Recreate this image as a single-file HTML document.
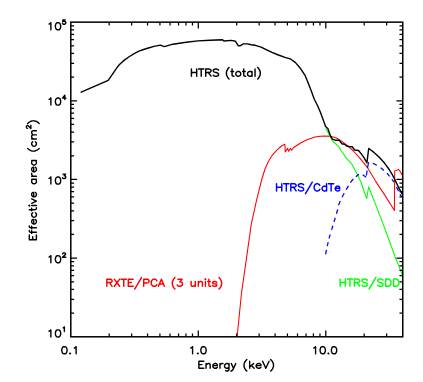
<!DOCTYPE html>
<html><head><meta charset="utf-8"><title>Effective area</title><style>
html,body{margin:0;padding:0;background:#fff;}
svg{display:block;}
</style></head><body>
<svg width="423" height="382" viewBox="0 0 423 382">
<rect width="423" height="382" fill="#fff"/>
<polyline points="237.1,336.8 241.5,293.2 247.3,252.4 251.2,224.7 256.4,200.9 261.6,180.0 265.0,169.0 268.5,161.3 272.1,155.4 276.8,150.1 281.5,146.0 284.9,144.2 285.3,151.9 287.5,148.3 288.6,151.3 290.4,148.3 291.6,150.3 293.4,147.7 300.5,143.0 307.6,139.5 315.0,137.1 320.0,136.3 325.0,136.0 330.7,136.3 336.4,138.0 342.0,141.4 347.7,145.9 353.4,151.0 359.0,157.2 364.7,164.2 367.6,167.8 375.5,181.1 384.0,193.9 394.4,210.5 394.7,170.8 396.5,170.4 398.3,169.4 400.0,171.2 402.6,175.8" fill="none" stroke="#ff0000" stroke-width="1.05" stroke-linejoin="round" stroke-linecap="butt" />
<polyline points="325.6,128.3 328.0,132.5 330.7,137.5 332.4,140.9 336.4,144.5 339.2,147.1 340.9,150.5 343.7,153.9 346.0,157.9 349.4,161.3 352.2,164.7 353.9,168.0 357.1,174.0 361.5,183.5 364.9,194.0 366.8,198.5 368.6,186.8 371.4,194.0 375.4,203.9 384.8,228.5 395.2,257.0 402.7,275.6" fill="none" stroke="#00ff00" stroke-width="1.05" stroke-linejoin="round" stroke-linecap="butt" />
<polyline points="325.6,254.3 326.5,249.9" fill="none" stroke="#0000ff" stroke-width="1.25" stroke-linejoin="round" stroke-linecap="butt" /><polyline points="327.2,246.1 328.2,242.2" fill="none" stroke="#0000ff" stroke-width="1.25" stroke-linejoin="round" stroke-linecap="butt" /><polyline points="329.0,238.4 330.2,234.5" fill="none" stroke="#0000ff" stroke-width="1.25" stroke-linejoin="round" stroke-linecap="butt" /><polyline points="331.6,229.9 332.9,225.7" fill="none" stroke="#0000ff" stroke-width="1.25" stroke-linejoin="round" stroke-linecap="butt" /><polyline points="334.0,221.9 335.3,217.7" fill="none" stroke="#0000ff" stroke-width="1.25" stroke-linejoin="round" stroke-linecap="butt" /><polyline points="336.4,213.7 337.7,209.5" fill="none" stroke="#0000ff" stroke-width="1.25" stroke-linejoin="round" stroke-linecap="butt" /><polyline points="338.5,205.3 340.3,201.0" fill="none" stroke="#0000ff" stroke-width="1.25" stroke-linejoin="round" stroke-linecap="butt" /><polyline points="342.0,197.2 344.2,193.2" fill="none" stroke="#0000ff" stroke-width="1.25" stroke-linejoin="round" stroke-linecap="butt" /><polyline points="346.1,189.7 348.5,185.8" fill="none" stroke="#0000ff" stroke-width="1.25" stroke-linejoin="round" stroke-linecap="butt" /><polyline points="350.4,182.7 353.3,178.8" fill="none" stroke="#0000ff" stroke-width="1.25" stroke-linejoin="round" stroke-linecap="butt" /><polyline points="355.9,176.8 357.5,175.3 359.0,174.4" fill="none" stroke="#0000ff" stroke-width="1.25" stroke-linejoin="round" stroke-linecap="butt" /><polyline points="362.7,174.8 366.2,177.2" fill="none" stroke="#0000ff" stroke-width="1.25" stroke-linejoin="round" stroke-linecap="butt" /><polyline points="366.4,175.5 367.1,170.5" fill="none" stroke="#0000ff" stroke-width="1.25" stroke-linejoin="round" stroke-linecap="butt" /><polyline points="367.5,168.0 368.6,162.2" fill="none" stroke="#0000ff" stroke-width="1.25" stroke-linejoin="round" stroke-linecap="butt" /><polyline points="372.8,163.2 376.7,165.1" fill="none" stroke="#0000ff" stroke-width="1.25" stroke-linejoin="round" stroke-linecap="butt" /><polyline points="380.7,167.8 384.0,170.5" fill="none" stroke="#0000ff" stroke-width="1.25" stroke-linejoin="round" stroke-linecap="butt" /><polyline points="387.0,173.2 389.7,176.4" fill="none" stroke="#0000ff" stroke-width="1.25" stroke-linejoin="round" stroke-linecap="butt" /><polyline points="391.9,179.3 394.0,182.1" fill="none" stroke="#0000ff" stroke-width="1.25" stroke-linejoin="round" stroke-linecap="butt" /><polyline points="396.4,187.0 398.6,191.1" fill="none" stroke="#0000ff" stroke-width="1.25" stroke-linejoin="round" stroke-linecap="butt" /><polyline points="400.0,194.1 401.9,197.2" fill="none" stroke="#0000ff" stroke-width="1.25" stroke-linejoin="round" stroke-linecap="butt" />
<polyline points="80.6,92.3 108.2,80.4 118.2,65.9 120.0,64.0 124.7,59.9 129.5,56.5 134.2,53.6 138.9,51.2 143.6,49.5 148.4,48.0 154.0,46.4 160.3,45.1 164.4,46.6 172.9,44.2 186.2,42.3 198.0,40.9 210.0,40.3 222.5,39.7 223.9,41.0 231.3,40.4 235.5,41.3 238.4,45.9 240.0,45.8 243.3,43.9 247.6,43.9 251.1,44.8 255.4,45.3 261.1,47.2 266.7,49.9 272.0,52.4 278.4,55.0 285.0,57.3 290.2,58.8 295.5,62.6 300.7,68.8 304.9,75.1 308.0,82.5 311.2,90.8 314.3,99.2 317.5,105.5 320.6,112.8 323.7,121.2 325.6,126.5 327.8,128.6 330.7,136.4 332.4,139.2 335.8,140.3 339.2,140.3 342.0,143.7 344.3,144.3 346.6,146.0 349.4,146.6 352.2,146.8 354.7,150.0 358.5,150.5 361.3,153.9 364.2,157.9 366.9,162.8 368.7,148.5 373.4,151.9 379.0,157.0 384.7,163.3 389.2,169.5 392.6,175.2 395.5,180.9 398.9,188.2 402.3,194.2" fill="none" stroke="#000" stroke-width="1.4" stroke-linejoin="round" stroke-linecap="butt" />
<rect x="70.80" y="22.15" width="331.95" height="314.65" fill="none" stroke="#000" stroke-width="1.5"/>
<path d="M109.18,336.80L109.18,333.50 M109.18,22.15L109.18,25.45 M131.63,336.80L131.63,333.50 M131.63,22.15L131.63,25.45 M147.56,336.80L147.56,333.50 M147.56,22.15L147.56,25.45 M159.92,336.80L159.92,333.50 M159.92,22.15L159.92,25.45 M170.01,336.80L170.01,333.50 M170.01,22.15L170.01,25.45 M178.55,336.80L178.55,333.50 M178.55,22.15L178.55,25.45 M185.94,336.80L185.94,333.50 M185.94,22.15L185.94,25.45 M192.47,336.80L192.47,333.50 M192.47,22.15L192.47,25.45 M198.30,336.80L198.30,330.50 M198.30,22.15L198.30,28.45 M236.68,336.80L236.68,333.50 M236.68,22.15L236.68,25.45 M259.13,336.80L259.13,333.50 M259.13,22.15L259.13,25.45 M275.06,336.80L275.06,333.50 M275.06,22.15L275.06,25.45 M287.42,336.80L287.42,333.50 M287.42,22.15L287.42,25.45 M297.51,336.80L297.51,333.50 M297.51,22.15L297.51,25.45 M306.05,336.80L306.05,333.50 M306.05,22.15L306.05,25.45 M313.44,336.80L313.44,333.50 M313.44,22.15L313.44,25.45 M319.97,336.80L319.97,333.50 M319.97,22.15L319.97,25.45 M325.80,336.80L325.80,330.50 M325.80,22.15L325.80,28.45 M364.18,336.80L364.18,333.50 M364.18,22.15L364.18,25.45 M386.63,336.80L386.63,333.50 M386.63,22.15L386.63,25.45 M70.80,313.12L74.10,313.12 M402.75,313.12L399.45,313.12 M70.80,299.27L74.10,299.27 M402.75,299.27L399.45,299.27 M70.80,289.44L74.10,289.44 M402.75,289.44L399.45,289.44 M70.80,281.82L74.10,281.82 M402.75,281.82L399.45,281.82 M70.80,275.59L74.10,275.59 M402.75,275.59L399.45,275.59 M70.80,270.32L74.10,270.32 M402.75,270.32L399.45,270.32 M70.80,265.76L74.10,265.76 M402.75,265.76L399.45,265.76 M70.80,261.74L74.10,261.74 M402.75,261.74L399.45,261.74 M70.80,258.14L77.10,258.14 M402.75,258.14L396.45,258.14 M70.80,234.46L74.10,234.46 M402.75,234.46L399.45,234.46 M70.80,220.61L74.10,220.61 M402.75,220.61L399.45,220.61 M70.80,210.78L74.10,210.78 M402.75,210.78L399.45,210.78 M70.80,203.15L74.10,203.15 M402.75,203.15L399.45,203.15 M70.80,196.93L74.10,196.93 M402.75,196.93L399.45,196.93 M70.80,191.66L74.10,191.66 M402.75,191.66L399.45,191.66 M70.80,187.10L74.10,187.10 M402.75,187.10L399.45,187.10 M70.80,183.07L74.10,183.07 M402.75,183.07L399.45,183.07 M70.80,179.47L77.10,179.47 M402.75,179.47L396.45,179.47 M70.80,155.80L74.10,155.80 M402.75,155.80L399.45,155.80 M70.80,141.94L74.10,141.94 M402.75,141.94L399.45,141.94 M70.80,132.12L74.10,132.12 M402.75,132.12L399.45,132.12 M70.80,124.49L74.10,124.49 M402.75,124.49L399.45,124.49 M70.80,118.26L74.10,118.26 M402.75,118.26L399.45,118.26 M70.80,113.00L74.10,113.00 M402.75,113.00L399.45,113.00 M70.80,108.44L74.10,108.44 M402.75,108.44L399.45,108.44 M70.80,104.41L74.10,104.41 M402.75,104.41L399.45,104.41 M70.80,100.81L77.10,100.81 M402.75,100.81L396.45,100.81 M70.80,77.13L74.10,77.13 M402.75,77.13L399.45,77.13 M70.80,63.28L74.10,63.28 M402.75,63.28L399.45,63.28 M70.80,53.45L74.10,53.45 M402.75,53.45L399.45,53.45 M70.80,45.83L74.10,45.83 M402.75,45.83L399.45,45.83 M70.80,39.60L74.10,39.60 M402.75,39.60L399.45,39.60 M70.80,34.33L74.10,34.33 M402.75,34.33L399.45,34.33 M70.80,29.77L74.10,29.77 M402.75,29.77L399.45,29.77 M70.80,25.75L74.10,25.75 M402.75,25.75L399.45,25.75" stroke="#000" stroke-width="1.25" fill="none"/>
<path d="M57.61,22.69L56.53,23.03L55.78,24.05L55.40,25.65L55.40,26.84L55.78,28.45L56.48,29.42L57.61,29.80L58.46,29.80L59.54,29.47L60.29,28.45L60.67,26.84L60.67,25.65L60.29,24.05L59.59,23.07L58.46,22.69ZM50.88,22.69L49.71,23.75L49.00,24.05L49.71,23.75L50.83,22.73L50.88,22.78L50.88,29.80ZM62.96,19.84L62.73,21.73L62.96,21.52L63.64,21.31L64.39,21.31L65.06,21.52L65.56,22.00L65.76,22.55L65.76,23.02L65.53,23.62L65.01,24.07L64.39,24.25L63.64,24.25L62.96,24.04L62.70,23.81L62.50,23.41L62.70,23.81L62.96,24.04L63.64,24.25L64.39,24.25L65.01,24.07L65.53,23.62L65.76,23.02L65.76,22.55L65.53,21.94L65.06,21.52L64.39,21.31L63.64,21.31L63.02,21.50L62.76,21.71L62.73,21.68L62.94,19.98L62.99,19.84L65.30,19.84Z" fill="none" stroke="#000" stroke-width="1.4" stroke-linejoin="round" stroke-linecap="round"/>
<path d="M57.61,97.99L56.53,98.33L55.78,99.35L55.40,100.95L55.40,102.14L55.78,103.75L56.48,104.72L57.61,105.10L58.46,105.10L59.54,104.77L60.29,103.75L60.67,102.14L60.67,100.95L60.29,99.35L59.59,98.37L58.46,97.99ZM50.88,97.99L49.71,99.05L49.00,99.35L49.71,99.05L50.83,98.03L50.88,98.08L50.88,105.10ZM64.83,95.14L62.50,98.08L64.80,98.08L64.83,99.55L64.83,98.11L66.00,98.08L64.83,98.06Z" fill="none" stroke="#000" stroke-width="1.4" stroke-linejoin="round" stroke-linecap="round"/>
<path d="M57.61,176.99L56.53,177.33L55.78,178.35L55.40,179.95L55.40,181.14L55.78,182.75L56.48,183.72L57.61,184.10L58.46,184.10L59.54,183.77L60.29,182.75L60.67,181.14L60.67,179.95L60.29,178.35L59.59,177.37L58.46,176.99ZM50.88,176.99L49.71,178.05L49.00,178.35L49.71,178.05L50.83,177.03L50.88,177.08L50.88,184.10ZM62.96,174.14L65.50,174.17L64.13,175.82L64.86,175.82L65.27,176.01L65.53,176.24L65.76,176.85L65.76,177.32L65.56,177.87L65.01,178.37L64.39,178.55L63.64,178.55L62.96,178.34L62.70,178.11L62.50,177.71L62.70,178.11L62.96,178.34L63.64,178.55L64.39,178.55L65.01,178.37L65.53,177.92L65.76,177.32L65.76,176.85L65.53,176.24L65.27,176.01L64.86,175.82L64.16,175.80L65.53,174.14Z" fill="none" stroke="#000" stroke-width="1.4" stroke-linejoin="round" stroke-linecap="round"/>
<path d="M57.61,255.69L56.53,256.03L55.78,257.05L55.40,258.65L55.40,259.84L55.78,261.45L56.48,262.42L57.61,262.80L58.46,262.80L59.54,262.47L60.29,261.45L60.67,259.84L60.67,258.65L60.29,257.05L59.59,256.07L58.46,255.69ZM50.88,255.69L49.71,256.75L49.00,257.05L49.71,256.75L50.83,255.73L50.88,255.78L50.88,262.80ZM63.66,252.84L63.20,253.05L62.96,253.26L62.73,253.68L62.73,253.89L62.73,253.68L62.96,253.26L63.20,253.05L63.66,252.84L64.63,252.84L65.04,253.03L65.30,253.26L65.53,253.68L65.53,254.13L65.33,254.50L64.86,255.13L62.50,257.25L65.76,257.25L62.53,257.23L64.86,255.13L65.33,254.50L65.53,254.13L65.53,253.68L65.30,253.26L65.04,253.03L64.63,252.84Z" fill="none" stroke="#000" stroke-width="1.4" stroke-linejoin="round" stroke-linecap="round"/>
<path d="M57.61,329.89L56.53,330.23L55.78,331.25L55.40,332.85L55.40,334.04L55.78,335.65L56.48,336.62L57.61,337.00L58.46,337.00L59.54,336.67L60.29,335.65L60.67,334.04L60.67,332.85L60.29,331.25L59.59,330.27L58.46,329.89ZM50.88,329.89L49.71,330.95L49.00,331.25L49.71,330.95L50.83,329.93L50.88,329.98L50.88,337.00ZM64.36,327.04L63.64,327.70L63.20,327.88L63.64,327.70L64.34,327.07L64.36,327.10L64.36,331.45Z" fill="none" stroke="#000" stroke-width="1.4" stroke-linejoin="round" stroke-linecap="round"/>
<path d="M70.08,353.13L69.70,353.47L70.08,353.80L70.46,353.47ZM76.10,346.69L74.93,347.75L74.22,348.05L74.93,347.75L76.06,346.73L76.10,346.78L76.10,353.80ZM64.01,346.69L62.93,347.03L62.18,348.05L61.80,349.65L61.80,350.84L62.18,352.45L62.88,353.42L64.01,353.80L64.86,353.80L65.94,353.47L66.69,352.45L67.07,350.84L67.07,349.65L66.69,348.05L65.99,347.07L64.86,346.69Z" fill="none" stroke="#000" stroke-width="1.4" stroke-linejoin="round" stroke-linecap="round"/>
<path d="M197.85,353.13L197.48,353.47L197.85,353.80L198.23,353.47ZM203.07,346.69L201.99,347.03L201.24,348.05L200.86,349.65L200.86,350.84L201.24,352.45L201.94,353.42L203.07,353.80L203.92,353.80L205.00,353.47L205.76,352.45L206.13,350.84L206.13,349.65L205.76,348.05L205.05,347.07L203.92,346.69ZM192.58,346.69L191.41,347.75L190.70,348.05L191.41,347.75L192.53,346.73L192.58,346.78L192.58,353.80Z" fill="none" stroke="#000" stroke-width="1.4" stroke-linejoin="round" stroke-linecap="round"/>
<path d="M328.38,353.13L328.00,353.47L328.38,353.80L328.76,353.47ZM333.60,346.69L332.52,347.03L331.77,348.05L331.39,349.65L331.39,350.84L331.77,352.45L332.47,353.42L333.60,353.80L334.45,353.80L335.53,353.47L336.28,352.45L336.66,350.84L336.66,349.65L336.28,348.05L335.58,347.07L334.45,346.69ZM322.31,346.69L321.23,347.03L320.48,348.05L320.10,349.65L320.10,350.84L320.48,352.45L321.18,353.42L322.31,353.80L323.16,353.80L324.24,353.47L324.99,352.45L325.37,350.84L325.37,349.65L324.99,348.05L324.29,347.07L323.16,346.69ZM315.58,346.69L314.41,347.75L313.70,348.05L314.41,347.75L315.53,346.73L315.58,346.78L315.58,353.80Z" fill="none" stroke="#000" stroke-width="1.4" stroke-linejoin="round" stroke-linecap="round"/>
<path d="M235.79,363.56L233.53,368.26L231.27,363.56L233.53,368.35L232.82,369.84L231.98,370.73L231.32,371.07L230.89,371.07L231.32,371.07L231.98,370.73L232.82,369.84L233.53,368.35ZM229.01,363.56L228.96,364.54L228.21,363.86L227.55,363.56L226.38,363.56L225.62,363.90L224.82,364.66L224.50,365.55L224.50,366.31L224.87,367.29L225.62,367.97L226.38,368.30L227.55,368.30L228.21,368.01L228.96,367.33L229.01,367.37L229.01,369.14L228.64,370.28L228.21,370.73L227.55,371.07L226.38,371.07L225.62,370.68L226.38,371.07L227.55,371.07L228.21,370.73L228.68,370.18L229.01,369.14ZM222.99,363.56L221.86,363.56L221.11,363.90L220.35,364.58L220.03,365.43L219.98,363.56L219.98,368.30L219.98,365.55L220.35,364.58L221.11,363.90L221.86,363.56ZM214.71,363.56L213.96,363.90L213.20,364.58L212.83,365.55L212.83,366.31L213.20,367.29L213.96,367.97L214.71,368.30L215.89,368.30L216.54,368.01L217.34,367.29L216.54,368.01L215.89,368.30L214.71,368.30L213.96,367.97L213.20,367.29L212.83,366.31L212.87,365.59L217.34,365.59L217.34,364.92L216.97,364.24L216.54,363.86L215.89,363.56ZM206.05,363.56L206.05,368.30L206.05,364.92L207.18,363.90L207.93,363.56L209.11,363.56L209.77,363.86L210.19,364.87L210.19,368.30L210.19,364.87L209.82,363.90L209.11,363.56L207.93,363.56L207.18,363.90L206.10,364.87ZM198.90,361.19L198.90,368.30L203.79,368.30L198.90,368.26L198.90,364.62L201.91,364.58L198.90,364.54L198.90,361.23L203.79,361.19Z" fill="none" stroke="#000" stroke-width="1.4" stroke-linejoin="round" stroke-linecap="round"/>
<path d="M258.14,363.56L257.34,363.90L256.53,364.58L256.12,365.55L256.12,366.31L256.53,367.29L257.34,367.97L258.14,368.30L259.41,368.30L260.11,368.01L260.97,367.29L260.11,368.01L259.41,368.30L258.14,368.30L257.34,367.97L256.53,367.29L256.12,366.31L256.17,365.59L260.97,365.59L260.97,364.92L260.57,364.24L260.11,363.86L259.41,363.56ZM269.05,361.19L265.82,368.26L262.59,361.19L265.82,368.30ZM249.66,361.19L249.66,368.30L249.66,366.95L251.27,365.59L254.10,368.30L251.27,365.59L253.70,363.56L249.71,366.91L249.66,366.87ZM270.67,359.55L271.53,360.42L272.24,361.44L273.10,362.88L273.50,364.49L273.50,366.02L273.10,367.67L272.34,369.05L271.53,370.23L270.67,371.07L271.53,370.23L272.34,369.05L273.10,367.67L273.50,366.02L273.50,364.49L273.10,362.88L272.24,361.44L271.53,360.42ZM246.83,359.55L245.97,360.42L245.26,361.44L244.40,362.88L244.00,364.49L244.00,366.02L244.40,367.67L245.16,369.05L245.97,370.23L246.83,371.07L245.97,370.23L245.16,369.05L244.40,367.67L244.00,366.02L244.00,364.49L244.40,362.88L245.26,361.44L245.97,360.42Z" fill="none" stroke="#000" stroke-width="1.4" stroke-linejoin="round" stroke-linecap="round"/>
<path d="M31.66,195.01L32.00,195.76L32.68,196.51L33.65,196.89L34.41,196.89L35.39,196.51L36.07,195.76L36.40,195.01L36.40,193.83L36.11,193.17L35.39,192.37L36.11,193.17L36.40,193.83L36.40,195.01L36.07,195.76L35.39,196.51L34.41,196.89L33.69,196.84L33.69,192.37L33.02,192.37L32.34,192.75L31.96,193.17L31.66,193.83ZM31.66,198.77L36.36,201.03L31.66,203.29L36.40,201.03ZM31.66,205.55L36.40,205.55ZM31.66,215.33L31.66,214.16L31.96,213.50L32.68,212.70L31.96,213.50L31.66,214.16L31.66,215.33L32.00,216.09L32.68,216.84L33.65,217.22L34.41,217.22L35.39,216.84L36.07,216.09L36.40,215.33L36.40,214.16L36.11,213.50L35.39,212.70L36.11,213.50L36.40,214.16L36.40,215.33L36.07,216.09L35.39,216.84L34.41,217.22L33.65,217.22L32.68,216.84L32.00,216.09ZM31.66,222.11L32.00,222.86L32.68,223.61L33.65,223.99L34.41,223.99L35.39,223.61L36.07,222.86L36.40,222.11L36.40,220.93L36.11,220.27L35.39,219.47L36.11,220.27L36.40,220.93L36.40,222.11L36.07,222.86L35.39,223.61L34.41,223.99L33.69,223.94L33.69,219.47L33.02,219.47L32.34,219.85L31.96,220.27L31.66,220.93ZM29.29,209.69L31.62,209.69L31.66,210.82L31.70,209.69L35.09,209.69L36.07,209.31L36.40,208.56L36.40,207.81L36.40,208.56L36.11,209.22L35.98,209.36L35.09,209.69L31.70,209.69L31.66,208.18L31.62,209.69ZM29.29,225.87L29.29,226.63L29.63,227.38L30.60,227.76L31.66,227.80L31.66,228.88L31.70,227.76L36.40,227.76L31.70,227.76L31.66,226.25L31.66,227.71L30.60,227.76L29.71,227.43L29.59,227.28L29.29,226.63ZM29.29,230.39L29.29,231.14L29.63,231.90L30.60,232.27L31.66,232.32L31.66,233.40L31.70,232.27L36.40,232.27L31.70,232.27L31.66,230.77L31.66,232.22L30.60,232.27L29.71,231.94L29.59,231.80L29.29,231.14ZM29.29,239.80L36.40,239.80L36.40,234.91L36.36,239.80L32.72,239.80L32.68,236.79L32.64,239.80L29.33,239.80L29.29,234.91ZM28.88,205.55L29.29,205.92L29.63,205.55L29.29,205.17Z" fill="none" stroke="#000" stroke-width="1.4" stroke-linejoin="round" stroke-linecap="round"/>
<path d="M32.00,163.85L32.68,164.60L33.65,164.98L34.41,164.98L35.39,164.60L36.07,163.85L36.40,163.10L36.40,161.92L36.11,161.26L35.43,160.51L36.40,160.46L31.66,160.46L32.64,160.51L31.96,161.26L31.66,161.92L31.66,163.10ZM31.66,169.87L32.00,170.63L32.68,171.38L33.65,171.76L34.41,171.76L35.39,171.38L36.07,170.63L36.40,169.87L36.40,168.70L36.11,168.04L35.39,167.24L36.11,168.04L36.40,168.70L36.40,169.87L36.07,170.63L35.39,171.38L34.41,171.76L33.69,171.71L33.69,167.24L33.02,167.24L32.34,167.61L31.96,168.04L31.66,168.70ZM31.66,173.26L31.66,174.39L32.00,175.14L32.68,175.90L33.53,176.22L31.66,176.27L36.40,176.27L33.65,176.27L32.68,175.90L32.00,175.14L31.66,174.39ZM32.00,182.67L32.68,183.42L33.65,183.80L34.41,183.80L35.39,183.42L36.07,182.67L36.40,181.92L36.40,180.74L36.11,180.08L35.43,179.33L36.40,179.28L31.66,179.28L32.64,179.33L31.96,180.08L31.66,180.74L31.66,181.92Z" fill="none" stroke="#000" stroke-width="1.4" stroke-linejoin="round" stroke-linecap="round"/>
<path d="M31.66,139.06L36.40,139.06L33.02,139.06L32.00,137.93L31.66,137.17L31.66,136.00L31.96,135.34L32.97,134.91L36.40,134.91L33.02,134.91L32.00,133.79L31.66,133.03L31.66,131.86L31.96,131.20L32.97,130.77L36.40,130.77L32.97,130.77L31.96,131.20L31.66,131.86L31.66,133.03L32.00,133.79L32.97,134.91L31.96,135.34L31.66,136.00L31.66,137.17L32.00,137.93L32.97,139.01ZM31.66,144.32L31.66,143.15L31.96,142.49L32.68,141.69L31.96,142.49L31.66,143.15L31.66,144.32L32.00,145.08L32.68,145.83L33.65,146.21L34.41,146.21L35.39,145.83L36.07,145.08L36.40,144.32L36.40,143.15L36.11,142.49L35.39,141.69L36.11,142.49L36.40,143.15L36.40,144.32L36.07,145.08L35.39,145.83L34.41,146.21L33.65,146.21L32.68,145.83L32.00,145.08ZM27.65,148.47L28.52,149.27L29.54,149.92L30.98,150.72L32.59,151.10L34.12,151.10L35.77,150.72L37.15,150.02L38.33,149.27L39.17,148.47L38.33,149.27L37.15,150.02L35.77,150.72L34.12,151.10L32.59,151.10L30.98,150.72L29.54,149.92L28.52,149.27ZM26.44,127.40L26.65,127.87L26.86,128.10L27.28,128.34L27.49,128.34L27.28,128.34L26.86,128.10L26.65,127.87L26.44,127.40L26.44,126.44L26.63,126.03L26.86,125.77L27.28,125.53L27.73,125.53L28.10,125.74L28.73,126.21L30.85,128.57L30.85,125.30L30.83,128.54L28.73,126.21L28.10,125.74L27.73,125.53L27.28,125.53L26.86,125.77L26.63,126.03L26.44,126.44ZM27.65,123.47L28.52,122.67L29.54,122.01L30.98,121.21L32.59,120.84L34.12,120.84L35.77,121.21L37.15,121.92L38.33,122.67L39.17,123.47L38.33,122.67L37.15,121.92L35.77,121.21L34.12,120.84L32.59,120.84L30.98,121.21L29.54,122.01L28.52,122.67Z" fill="none" stroke="#000" stroke-width="1.4" stroke-linejoin="round" stroke-linecap="round"/>
<path d="M215.09,69.09L216.69,69.09L217.77,69.43L218.53,70.11L217.77,69.43L216.69,69.09L215.09,69.09L214.01,69.43L213.26,70.11L213.26,70.83L213.59,71.42L214.01,71.80L214.86,72.18L217.07,72.82L217.73,73.11L218.15,73.49L218.53,74.17L218.53,75.19L217.77,75.87L216.69,76.20L215.09,76.20L214.01,75.87L213.26,75.19L214.01,75.87L215.09,76.20L216.69,76.20L217.77,75.87L218.53,75.19L218.53,74.17L218.15,73.49L217.73,73.11L217.07,72.82L214.86,72.18L214.01,71.80L213.59,71.42L213.26,70.83L213.26,70.11L214.01,69.43ZM205.73,69.09L205.73,76.20L205.78,72.48L208.36,72.48L211.00,76.20L208.41,72.56L208.46,72.48L209.16,72.48L210.15,72.18L210.67,71.76L211.00,71.17L211.00,70.45L210.62,69.77L210.24,69.43L209.16,69.09ZM203.85,69.09L198.58,69.09L201.21,69.13L201.21,76.20L201.21,69.13ZM191.42,69.09L191.42,76.20L191.47,72.48L196.65,72.48L196.69,76.20L196.69,69.09L196.65,72.48L191.47,72.48Z" fill="none" stroke="#000" stroke-width="1.45" stroke-linejoin="round" stroke-linecap="round"/>
<path d="M248.63,71.80L247.88,72.48L247.50,73.45L247.50,74.21L247.88,75.19L248.63,75.87L249.39,76.20L250.56,76.20L251.22,75.91L251.97,75.23L252.02,76.20L252.02,71.46L251.97,72.44L251.22,71.76L250.56,71.46L249.39,71.46ZM237.72,71.46L236.96,71.80L236.21,72.48L235.83,73.45L235.83,74.21L236.21,75.19L236.96,75.87L237.72,76.20L238.89,76.20L239.55,75.91L240.35,75.19L240.73,74.21L240.73,73.45L240.35,72.48L239.55,71.76L238.89,71.46ZM255.03,69.09L255.03,76.20ZM243.74,69.09L243.74,71.42L242.61,71.46L243.74,71.50L243.74,74.89L244.12,75.87L244.87,76.20L245.62,76.20L244.87,76.20L244.21,75.91L244.07,75.78L243.74,74.89L243.74,71.50L245.24,71.46L243.74,71.42ZM232.07,69.09L232.07,71.42L230.94,71.46L232.07,71.50L232.07,74.89L232.45,75.87L233.20,76.20L233.95,76.20L233.20,76.20L232.54,75.91L232.40,75.78L232.07,74.89L232.07,71.50L233.58,71.46L232.07,71.42ZM257.67,67.45L258.47,68.32L259.12,69.34L259.92,70.78L260.30,72.39L260.30,73.92L259.92,75.57L259.22,76.95L258.47,78.13L257.67,78.97L258.47,78.13L259.22,76.95L259.92,75.57L260.30,73.92L260.30,72.39L259.92,70.78L259.12,69.34L258.47,68.32ZM229.06,67.45L228.26,68.32L227.60,69.34L226.80,70.78L226.42,72.39L226.42,73.92L226.80,75.57L227.51,76.95L228.26,78.13L229.06,78.97L228.26,78.13L227.51,76.95L226.80,75.57L226.42,73.92L226.42,72.39L226.80,70.78L227.60,69.34L228.26,68.32Z" fill="none" stroke="#000" stroke-width="1.45" stroke-linejoin="round" stroke-linecap="round"/>
<path d="M337.13,186.16L336.37,186.50L335.62,187.18L335.24,188.15L335.24,188.91L335.62,189.89L336.37,190.57L337.13,190.90L338.30,190.90L338.96,190.61L339.76,189.89L338.96,190.61L338.30,190.90L337.13,190.90L336.37,190.57L335.62,189.89L335.24,188.91L335.29,188.19L339.76,188.19L339.76,187.52L339.38,186.84L338.96,186.46L338.30,186.16ZM333.74,183.79L328.47,183.79L331.10,183.83L331.10,190.90L331.10,183.83ZM326.59,183.79L326.54,187.14L325.79,186.46L325.13,186.16L323.95,186.16L323.20,186.50L322.40,187.26L322.07,188.15L322.07,188.91L322.40,189.80L323.20,190.57L323.95,190.90L325.13,190.90L325.79,190.61L326.54,189.93L326.59,190.90ZM316.42,183.79L317.98,183.79L318.63,184.09L319.43,184.81L319.81,185.48L319.43,184.81L318.63,184.09L317.98,183.79L316.42,183.79L315.67,184.13L314.92,184.81L314.49,185.57L314.17,186.46L314.17,188.24L314.54,189.25L314.87,189.85L315.67,190.57L316.42,190.90L317.98,190.90L318.63,190.61L319.48,189.85L319.81,189.21L319.48,189.85L318.63,190.61L317.98,190.90L316.42,190.90L315.67,190.57L314.87,189.85L314.54,189.25L314.17,188.24L314.17,186.46L314.49,185.57L314.92,184.81L315.67,184.13ZM300.19,183.79L301.79,183.79L302.87,184.13L303.63,184.81L302.87,184.13L301.79,183.79L300.19,183.79L299.11,184.13L298.36,184.81L298.36,185.53L298.69,186.12L299.11,186.50L299.96,186.88L302.17,187.52L302.83,187.81L303.25,188.19L303.63,188.87L303.63,189.89L302.87,190.57L301.79,190.90L300.19,190.90L299.11,190.57L298.36,189.89L299.11,190.57L300.19,190.90L301.79,190.90L302.87,190.57L303.63,189.89L303.63,188.87L303.25,188.19L302.83,187.81L302.17,187.52L299.96,186.88L299.11,186.50L298.69,186.12L298.36,185.53L298.36,184.81L299.11,184.13ZM290.83,183.79L290.83,190.90L290.88,187.18L293.46,187.18L296.10,190.90L293.51,187.26L293.56,187.18L294.26,187.18L295.25,186.88L295.77,186.46L296.10,185.87L296.10,185.15L295.72,184.47L295.35,184.13L294.26,183.79ZM288.95,183.79L283.68,183.79L286.31,183.83L286.31,190.90L286.31,183.83ZM276.53,183.79L276.53,190.90L276.57,187.18L281.75,187.18L281.79,190.90L281.79,183.79L281.75,187.18L276.57,187.18ZM312.28,182.15L305.51,193.67Z" fill="none" stroke="#0000ff" stroke-width="1.45" stroke-linejoin="round" stroke-linecap="round"/>
<path d="M393.57,279.09L393.57,286.20L396.26,286.20L397.24,285.91L398.14,285.15L398.47,284.55L398.84,283.54L398.84,281.76L398.51,280.87L398.09,280.11L397.24,279.39L396.26,279.09ZM385.67,279.09L385.67,286.20L388.35,286.20L389.34,285.91L390.23,285.15L390.56,284.55L390.94,283.54L390.94,281.76L390.61,280.87L390.19,280.11L389.34,279.39L388.35,279.09ZM379.60,279.09L381.20,279.09L382.28,279.43L383.03,280.11L382.28,279.43L381.20,279.09L379.60,279.09L378.52,279.43L377.76,280.11L377.76,280.83L378.09,281.42L378.52,281.80L379.36,282.18L381.58,282.82L382.23,283.11L382.66,283.49L383.03,284.17L383.03,285.19L382.28,285.87L381.20,286.20L379.60,286.20L378.52,285.87L377.76,285.19L378.52,285.87L379.60,286.20L381.20,286.20L382.28,285.87L383.03,285.19L383.03,284.17L382.66,283.49L382.23,283.11L381.58,282.82L379.36,282.18L378.52,281.80L378.09,281.42L377.76,280.83L377.76,280.11L378.52,279.43ZM363.79,279.09L365.39,279.09L366.47,279.43L367.23,280.11L366.47,279.43L365.39,279.09L363.79,279.09L362.71,279.43L361.96,280.11L361.96,280.83L362.29,281.42L362.71,281.80L363.56,282.18L365.77,282.82L366.43,283.11L366.85,283.49L367.23,284.17L367.23,285.19L366.47,285.87L365.39,286.20L363.79,286.20L362.71,285.87L361.96,285.19L362.71,285.87L363.79,286.20L365.39,286.20L366.47,285.87L367.23,285.19L367.23,284.17L366.85,283.49L366.43,283.11L365.77,282.82L363.56,282.18L362.71,281.80L362.29,281.42L361.96,280.83L361.96,280.11L362.71,279.43ZM354.43,279.09L354.43,286.20L354.48,282.48L357.06,282.48L359.70,286.20L357.11,282.56L357.16,282.48L357.86,282.48L358.85,282.18L359.37,281.76L359.70,281.17L359.70,280.45L359.32,279.77L358.94,279.43L357.86,279.09ZM352.55,279.09L347.28,279.09L349.91,279.13L349.91,286.20L349.91,279.13ZM340.12,279.09L340.12,286.20L340.17,282.48L345.35,282.48L345.39,286.20L345.39,279.09L345.35,282.48L340.17,282.48ZM375.88,277.45L369.11,288.97Z" fill="none" stroke="#00ff00" stroke-width="1.45" stroke-linejoin="round" stroke-linecap="round"/>
<path d="M159.52,283.93L163.28,283.93ZM212.97,281.90L212.59,282.58L212.97,283.26L213.86,283.64L215.65,283.93L216.36,284.27L216.73,284.95L216.73,285.33L216.36,285.97L215.28,286.30L214.05,286.30L212.92,285.92L212.59,285.29L212.92,285.92L214.05,286.30L215.28,286.30L216.36,285.97L216.73,285.33L216.73,284.95L216.31,284.23L215.65,283.93L213.72,283.59L212.97,283.26L212.59,282.62L213.06,281.86L214.05,281.56L215.28,281.56L216.26,281.86L216.73,282.58L216.36,281.90L215.28,281.56L214.05,281.56ZM205.44,281.56L205.44,286.30ZM198.29,281.56L198.29,286.30L198.29,282.92L199.42,281.90L200.17,281.56L201.35,281.56L202.01,281.86L202.43,282.87L202.43,286.30L202.43,282.87L202.05,281.90L201.35,281.56L200.17,281.56L199.42,281.90L198.34,282.87ZM191.14,281.56L191.14,284.99L191.51,285.97L192.27,286.30L193.44,286.30L194.10,286.01L195.23,284.99L195.28,286.30L195.28,281.56L195.28,284.95L194.10,286.01L193.44,286.30L192.27,286.30L191.47,285.88L191.14,284.99ZM208.83,279.19L208.83,281.52L207.70,281.56L208.83,281.60L208.83,284.99L209.21,285.97L209.96,286.30L210.71,286.30L209.96,286.30L209.30,286.01L209.16,285.88L208.83,284.99L208.83,281.60L210.33,281.56L208.83,281.52ZM177.96,279.19L182.06,279.23L179.85,281.90L181.02,281.90L181.68,282.20L182.10,282.58L182.48,283.55L182.48,284.31L182.15,285.20L181.26,286.01L180.27,286.30L179.05,286.30L177.96,285.97L177.54,285.58L177.21,284.95L177.54,285.58L177.96,285.97L179.05,286.30L180.27,286.30L181.26,286.01L182.10,285.29L182.48,284.31L182.48,283.55L182.10,282.58L181.68,282.20L181.02,281.90L179.89,281.86L182.10,279.19ZM161.40,279.19L158.39,286.30L161.40,279.23L164.41,286.30ZM153.50,279.19L155.05,279.19L155.71,279.49L156.51,280.21L156.89,280.88L156.51,280.21L155.71,279.49L155.05,279.19L153.50,279.19L152.75,279.53L151.99,280.21L151.57,280.97L151.24,281.86L151.24,283.64L151.62,284.65L151.95,285.25L152.75,285.97L153.50,286.30L155.05,286.30L155.71,286.01L156.56,285.25L156.89,284.61L156.56,285.25L155.71,286.01L155.05,286.30L153.50,286.30L152.75,285.97L151.95,285.25L151.62,284.65L151.24,283.64L151.24,281.86L151.57,280.97L151.99,280.21L152.75,279.53ZM148.23,279.53L147.15,279.19L143.71,279.19L143.71,286.30L143.71,282.96L147.15,282.92L148.23,282.58L148.65,282.20L148.98,281.60L148.98,280.55L148.61,279.87ZM128.28,279.19L128.28,286.30L133.17,286.30L128.28,286.26L128.28,282.62L131.29,282.58L128.28,282.54L128.28,279.23L133.17,279.19ZM126.40,279.19L121.13,279.19L123.76,279.23L123.76,286.30L123.76,279.23ZM114.35,279.19L116.99,282.75L114.35,286.30L116.99,282.75L119.62,286.30L116.99,282.75L119.62,279.19L116.99,282.75ZM106.82,279.19L106.82,286.30L106.87,282.58L109.46,282.58L112.09,286.30L109.51,282.66L109.55,282.58L110.26,282.58L111.25,282.28L111.77,281.86L112.09,281.27L112.09,280.55L111.72,279.87L111.34,279.53L110.26,279.19ZM205.44,278.78L205.07,279.19L205.44,279.53L205.82,279.19ZM218.99,277.55L219.79,278.42L220.45,279.44L221.25,280.88L221.63,282.49L221.63,284.02L221.25,285.67L220.54,287.05L219.79,288.23L218.99,289.07L219.79,288.23L220.54,287.05L221.25,285.67L221.63,284.02L221.63,282.49L221.25,280.88L220.45,279.44L219.79,278.42ZM174.95,277.55L174.15,278.42L173.49,279.44L172.69,280.88L172.32,282.49L172.32,284.02L172.69,285.67L173.40,287.05L174.15,288.23L174.95,289.07L174.15,288.23L173.40,287.05L172.69,285.67L172.32,284.02L172.32,282.49L172.69,280.88L173.49,279.44L174.15,278.42ZM141.45,277.55L134.68,289.07Z" fill="none" stroke="#ff0000" stroke-width="1.45" stroke-linejoin="round" stroke-linecap="round"/>
</svg>
</body></html>
